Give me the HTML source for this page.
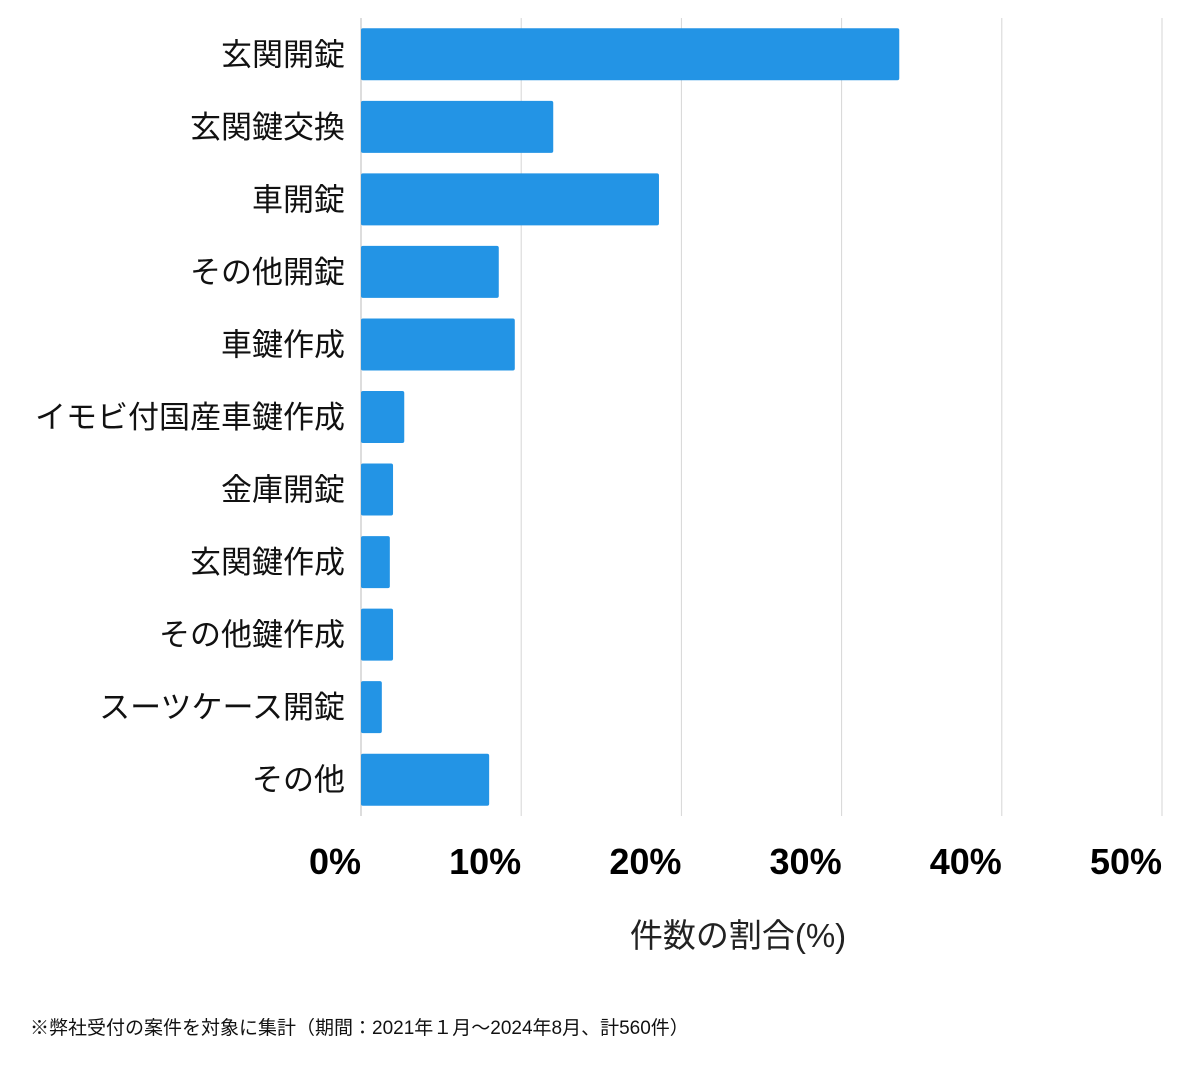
<!DOCTYPE html>
<html><head><meta charset="utf-8"><style>
html,body{margin:0;padding:0;background:#fff;}
svg{display:block;font-family:"Liberation Sans","Noto Sans CJK JP",sans-serif;}
</style></head><body>
<svg id="chart" width="1200" height="1069"></svg>
<script>
const categories = ["玄関開錠","玄関鍵交換","車開錠","その他開錠","車鍵作成","イモビ付国産車鍵作成","金庫開錠","玄関鍵作成","その他鍵作成","スーツケース開錠","その他"];
const values = [33.6, 12.0, 18.6, 8.6, 9.6, 2.7, 2.0, 1.8, 2.0, 1.3, 8.0];
const ticks = [0, 10, 20, 30, 40, 50];
const tickLabels = ["0%","10%","20%","30%","40%","50%"];

const svg = document.getElementById('chart');
const NS = 'http://www.w3.org/2000/svg';
const x0 = 361, x1 = 1162, yTop = 18, yBot = 816;
const xScale = v => x0 + (v - 0) / 50 * (x1 - x0);
const band = (yBot - yTop) / categories.length;
const yScale = i => yTop + i * band;
const barH = 52;
function mk(tag, attrs){ const e = document.createElementNS(NS, tag); for (const k in attrs) e.setAttribute(k, attrs[k]); svg.appendChild(e); return e; }

ticks.forEach((t, i) => {
  const g = mk('line', {x1: xScale(t), x2: xScale(t), y1: yTop, y2: yBot, stroke: i === 0 ? '#bbb' : '#d6d6d6', 'stroke-width': 1});
  
  
  const tl = mk('text', {x: xScale(t), y: 874, 'text-anchor': 'end', 'font-size': 36, 'font-weight': 'bold', fill: '#000'});
  tl.textContent = tickLabels[i];
  
  
});

categories.forEach((c, i) => {
  const yc = yScale(i) + band / 2;
  const r = mk('rect', {x: x0, y: yc - barH / 2, width: xScale(values[i]) - x0, height: barH, fill: '#2394e5', rx: 2});
  
  
  const t = mk('text', {x: 345, y: yc + 11, 'text-anchor': 'end', 'font-size': 31, fill: '#111'});
  t.textContent = c;
  
  
});

const at = mk('text', {x: 738, y: 947, 'text-anchor': 'middle', 'font-size': 33, fill: '#222'});
at.textContent = '件数の割合(%)';



const fn = mk('text', {x: 30, y: 1034, 'font-size': 19, fill: '#111'});
fn.textContent = '※弊社受付の案件を対象に集計（期間：2021年１月～2024年8月、計560件）';


</script>
</body></html>
